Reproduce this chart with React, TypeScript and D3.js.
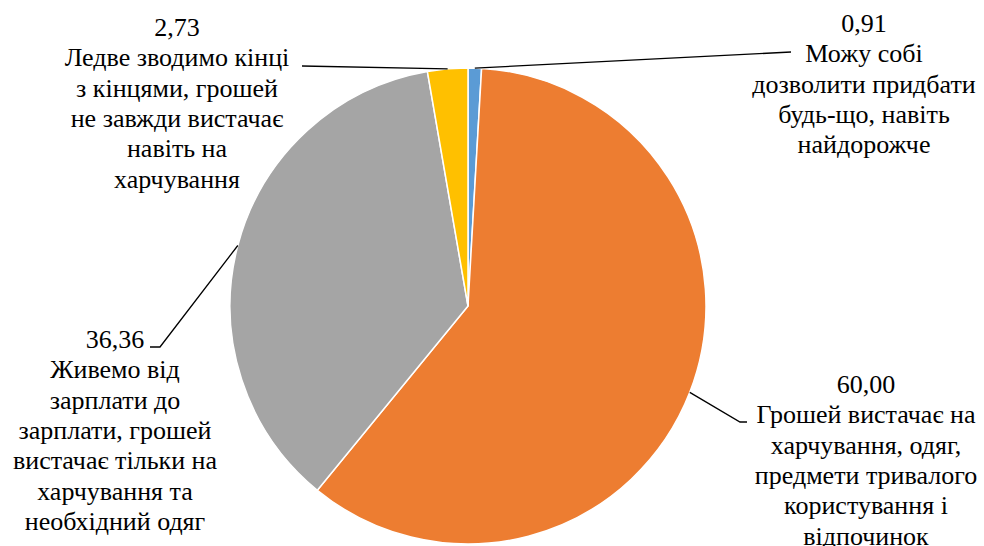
import React from "react";
import * as d3 from "d3";

const categories = [
  "Можу собі дозволити придбати будь-що, навіть найдорожче",
  "Грошей вистачає на харчування, одяг, предмети тривалого користування і відпочинок",
  "Живемо від зарплати до зарплати, грошей вистачає тільки на харчування та необхідний одяг",
  "Ледве зводимо кінці з кінцями, грошей не завжди вистачає навіть на харчування",
];
const values = [0.91, 60.0, 36.36, 2.73];
const valueLabels = ["0,91", "60,00", "36,36", "2,73"];
const labelLines = [
  ["Можу собі", "дозволити придбати", "будь-що, навіть", "найдорожче"],
  ["Грошей вистачає на", "харчування, одяг,", "предмети тривалого", "користування і", "відпочинок"],
  ["Живемо від", "зарплати до", "зарплати, грошей", "вистачає тільки на", "харчування та", "необхідний одяг"],
  ["Ледве зводимо кінці", "з кінцями, грошей", "не завжди вистачає", "навіть на", "харчування"],
];
const colors = ["#5B9BD5", "#ED7D31", "#A5A5A5", "#FFC000"];

// layout (positions of label blocks and leader line bends)
const W = 984, H = 546;
const cx = 468, cy = 306, R = 238;
const lineH = 30.3;
const labelLayout = [
  { x: 864, y: 32, path: [[791, 52]] },
  { x: 866, y: 393, path: [[740, 422], [747, 422]] },
  { x: 115, y: 348, path: [[160, 347], [150, 347]] },
  { x: 177, y: 36, path: [[302, 66]] },
];

export default function App() {
  const pie = d3.pie<number>().sort(null).startAngle(0).endAngle(2 * Math.PI);
  const arcs = pie(values);
  const arc = d3.arc<d3.PieArcDatum<number>>().innerRadius(0).outerRadius(R);
  const line = d3.line();
  return (
    <svg width={W} height={H} style={{ position: "absolute", left: 0, top: 0 }}>
      <rect width={W} height={H} fill="#fff" />
      <g transform={`translate(${cx},${cy})`}>
        {arcs.map((a, i) => (
          <path key={i} d={arc(a) || ""} fill={colors[i]} stroke="#fff" strokeWidth={1.5} />
        ))}
      </g>
      {arcs.map((a, i) => {
        const mid = (a.startAngle + a.endAngle) / 2;
        const sx = cx + R * Math.sin(mid);
        const sy = cy - R * Math.cos(mid);
        const pts: [number, number][] = [[sx, sy], ...(labelLayout[i].path as [number, number][])];
        return <path key={i} d={line(pts) || ""} fill="none" stroke="#000" strokeWidth={1.3} />;
      })}
      {labelLayout.map((l, i) => (
        <text key={i} x={l.x} y={l.y} textAnchor="middle" style={{ fontFamily: '"Liberation Serif"', fontSize: 26 }} fill="#000">
          <tspan x={l.x} y={l.y}>{valueLabels[i]}</tspan>
          {labelLines[i].map((t, j) => (
            <tspan key={j} x={l.x} y={l.y + lineH * (j + 1)}>{t}</tspan>
          ))}
        </text>
      ))}
    </svg>
  );
}
